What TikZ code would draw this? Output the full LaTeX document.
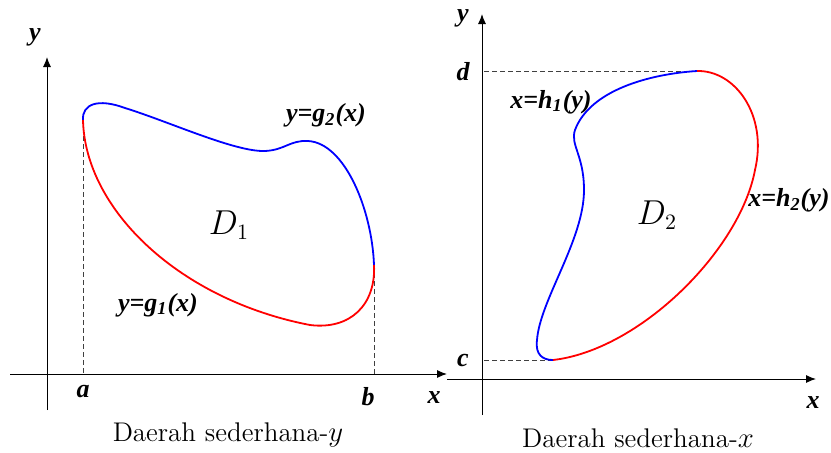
\documentclass[tikz,border=0pt]{standalone}
\usepackage{fontspec}
\newfontfamily\lblfont{Liberation Serif}
\usetikzlibrary{arrows.meta}
\begin{document}
\begin{tikzpicture}[x=0.5pt,y=-0.5pt,
  axis/.style={line width=0.5pt,-{Latex[length=5pt,width=4pt]}},
  guide/.style={line width=0.4pt,black!75,dash pattern=on 2.5pt off 1.5pt},
  blueline/.style={blue,line width=0.9pt},
  redline/.style={red,line width=0.9pt},
  lbl/.style={inner sep=0pt,font=\fontsize{13}{15}\selectfont\lblfont\bfseries\itshape},
  captext/.style={inner sep=0pt,font=\fontsize{13.5}{16}\selectfont},
  reg/.style={inner sep=0pt,font=\fontsize{16}{18}\selectfont}]
\useasboundingbox (0,0) rectangle (831,452);
% ---------- left: y-simple region ----------
\coordinate (xl0) at (10,374); \coordinate (xl1) at (447,374);
\coordinate (yl0) at (47,410); \coordinate (yl1) at (47,57);
\draw[axis] (xl0) -- (xl1);
\draw[axis] (yl0) -- (yl1);
\coordinate (A) at (83,120); \coordinate (B) at (374,265);
\coordinate (Ax) at (83,374); \coordinate (Bx) at (374,374);
\draw[guide] (A) -- (Ax);
\draw[guide] (B) -- (Bx);
\draw[blueline] (A) .. controls (82,104) and (98,98) .. (125,108)
  .. controls (170,122) and (235,152) .. (265,151)
  .. controls (285,150) and (290,140) .. (308,141)
  .. controls (345,143) and (372,210) .. (B);
\draw[redline] (A) .. controls (85,210) and (180,300) .. (310,325)
  .. controls (350,330) and (376,305) .. (B);
\node[lbl] (ly) at (35,37) {y};
\node[lbl] (lx) at (434,398) {x};
\node[lbl] (la) at (83,392) {a};
\node[lbl] (lb) at (368,397) {b};
\node[reg] (D1) at (229,225) {$D_1$};
\node[lbl] (g2) at (326,115) {y=g\textsubscript{2}(x)};
\node[lbl] (g1) at (158,305) {y=g\textsubscript{1}(x)};
\node[captext] (c1) at (228,435) {Daerah sederhana-$y$};
% ---------- right: x-simple region ----------
\coordinate (xr0) at (447,379); \coordinate (xr1) at (816,379);
\coordinate (yr0) at (482,415); \coordinate (yr1) at (482,14);
\draw[axis] (xr0) -- (xr1);
\draw[axis] (yr0) -- (yr1);
\coordinate (Dp) at (697,71); \coordinate (Cp) at (553,360);
\coordinate (Dy) at (484,71); \coordinate (Cy) at (484,360);
\draw[guide] (Dy) -- (Dp);
\draw[guide] (Cy) -- (Cp);
\draw[blueline] (Dp) .. controls (650,74) and (590,90) .. (575,130)
  .. controls (570,145) and (584,155) .. (584,190)
  .. controls (584,240) and (540,300) .. (537,340)
  .. controls (535,355) and (543,360) .. (Cp);
\draw[redline] (Cp) .. controls (640,350) and (740,250) .. (755,170)
  .. controls (768,115) and (735,70) .. (Dp);
\node[lbl] (ry) at (463,18) {y};
\node[lbl] (rx) at (813,403) {x};
\node[lbl] (rd) at (463,72) {d};
\node[lbl] (rc) at (463,360) {c};
\node[reg] (D2) at (657,215) {$D_2$};
\node[lbl] (h1) at (551,102) {x=h\textsubscript{1}(y)};
\node[lbl,anchor=east] (h2) at (830,200) {x=h\textsubscript{2}(y)};
\node[captext] (c2) at (638,438) {Daerah sederhana-$x$};
\end{tikzpicture}
\end{document}
